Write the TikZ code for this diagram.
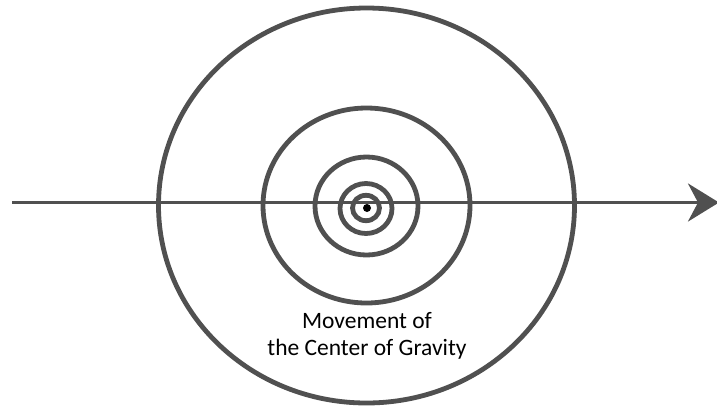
\documentclass[tikz,border=0pt]{standalone}
\usepackage{fontspec}
\setmainfont{Carlito}
\usetikzlibrary{arrows.meta}
\definecolor{ring}{HTML}{505050}
\begin{document}
\begin{tikzpicture}[x=1pt,y=-1pt,
  ringstyle/.style={draw=ring,line width=4.8pt},
  axis/.style={draw=ring,line width=3.5pt,-{Stealth[length=31pt,width=38pt,inset=10pt]}},
  lbl/.style={font=\fontsize{23.5}{27}\selectfont,align=center,text=black}]
\useasboundingbox (0,0) rectangle (717,408);
\coordinate (c) at (366.5,205.5);
\draw[ringstyle] (c) ellipse [x radius=208, y radius=197.5];
\draw[ringstyle] (c) ellipse [x radius=103.5, y radius=97.5];
\draw[ringstyle] (366.5,206) ellipse [x radius=51.5, y radius=49];
\draw[ringstyle] (366,208.5) ellipse [x radius=26, y radius=25];
\draw[ringstyle] (366,208) ellipse [x radius=13.5, y radius=12.7];
\fill[black] (367,208) circle [radius=4];
\coordinate (s) at (12,202.5);
\coordinate (e) at (719,202.5);
\draw[axis] (s) -- (e);
\node[lbl] (t) at (367,336) {Movement of\\the Center of Gravity};
\end{tikzpicture}
\end{document}
